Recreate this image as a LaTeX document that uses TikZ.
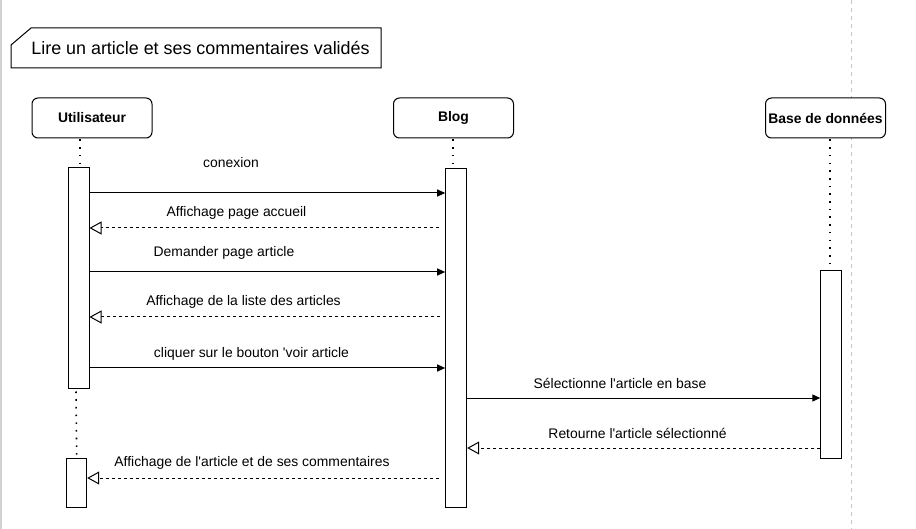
\documentclass[tikz,border=0pt]{standalone}
\usepackage{fontspec}
\setmainfont{Liberation Sans}
\usetikzlibrary{arrows.meta}
\newcommand{\sq}{\textquotesingle}
\begin{document}
\begin{tikzpicture}[x=1pt,y=-1pt,
  actor/.style={draw=black, line width=1pt, rounded corners=6pt, minimum width=120pt, minimum height=40pt, inner sep=0pt, font=\fontsize{13.9}{16}\selectfont\bfseries, fill=white},
  actbox/.style={draw=black, line width=1pt, minimum width=21pt, inner sep=0pt, fill=white},
  life/.style={line width=1.6pt, dash pattern=on 1.6pt off 6.1pt, line cap=butt},
  msg/.style={line width=1pt, -{Triangle[length=8pt,width=7pt]}},
  ret/.style={line width=1pt, dash pattern=on 3pt off 3pt, -{Triangle[open,length=12pt,width=13pt,fill=white]}},
  lbl/.style={font=\fontsize{13.9}{16}\selectfont, inner sep=0pt}
]
\useasboundingbox (0,0) rectangle (916,529);
\fill[white] (0,0) rectangle (916,529);
% frame lines
\draw[gray!35, line width=1.5pt] (1,0) -- (1,529);
\draw[gray!45, line width=1pt, dash pattern=on 4pt off 4pt] (851.5,0) -- (851.5,529);

% title
\draw[line width=1pt] (11,45) -- (31,28) -- (381,28) -- (381,68) -- (11,68) -- cycle;
\node[font=\fontsize{17.9}{20}\selectfont, inner sep=0pt] (title) at (200.5,48) {Lire un article et ses commentaires validés};

% actors
\node[actor] (u) at (92,118) {Utilisateur};
\node[actor] (b) at (453.5,118) {Blog};
\node[actor] (d) at (825.5,118) {Base de données};

% activation boxes
\node[actbox, minimum height=220pt] (ua) at (78.5,278) {};
\node[actbox, minimum width=20pt, minimum height=49.5pt] (ua2) at (76.7,483) {};
\node[actbox, minimum height=339.5pt] (ba) at (456.2,337.8) {};
\node[actbox, minimum height=188pt] (da) at (831.3,364.3) {};

% lifelines
\coordinate (ut) at (80,168);
\draw[life] (80,139.5) -- (ut);
\draw[life] (ua.south -| 76,0) ++(0,3) -- (ua2.north);
\draw[life] (453,139.5) -- (453,168);
\draw[life] (830,139.5) -- (830,270);

% messages
\draw[msg] (ua.east |- 0,193) -- (ba.west |- 0,193);
\node[lbl] (m1) at (231,163) {conexion};
\draw[ret, shorten <=6pt] (ba.west |- 0,228) -- (ua.east |- 0,228);
\node[lbl] (m2) at (236.5,213) {Affichage page accueil};
\draw[msg] (ua.east |- 0,272) -- (ba.west |- 0,272);
\node[lbl] (m3) at (224,253) {Demander page article};
\draw[ret, shorten <=5pt] (ba.west |- 0,317) -- (ua.east |- 0,317);
\node[lbl] (m4) at (243.5,302) {Affichage de la liste des articles};
\draw[msg] (ua.east |- 0,368) -- (ba.west |- 0,368);
\node[lbl] (m5) at (251.5,353.5) {cliquer sur le bouton \sq voir article};
\draw[msg] (ba.east |- 0,398) -- (da.west |- 0,398);
\node[lbl] (m6) at (620,383) {Sélectionne l\sq article en base};
\draw[ret] (da.west |- 0,448) -- (ba.east |- 0,448);
\node[lbl] (m7) at (637.5,433) {Retourne l\sq article sélectionné};
\draw[ret, shorten <=6pt] (ba.west |- 0,478) -- (ua2.east |- 0,478);
\node[lbl] (m8) at (252,463) {Affichage de l\sq article et de ses commentaires};
\end{tikzpicture}
\end{document}
